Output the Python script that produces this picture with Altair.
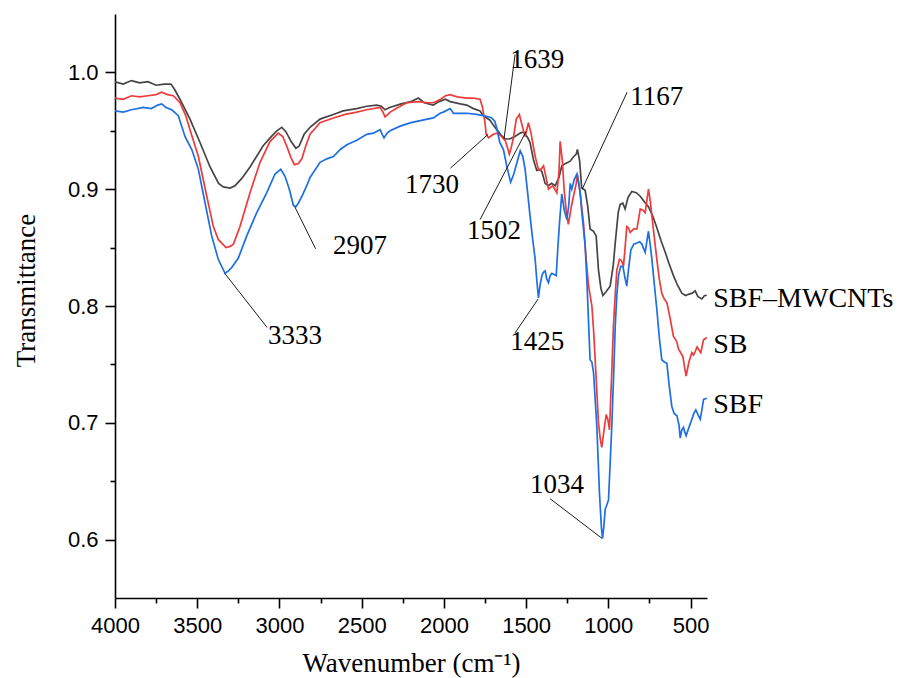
import altair as alt
import pandas as pd

# ---------------- data ----------------
series_names = ["SBF–MWCNTs", "SB", "SBF"]
series_colors = ["#454545", "#ee3b3b", "#1c6fe4"]

wn_mw = [4000, 3950, 3900, 3850, 3800, 3750, 3700, 3660, 3640, 3605, 3544, 3483, 3422, 3370, 3341, 3300,
         3270, 3230, 3179, 3100, 3050, 3016, 2986, 2960, 2930, 2900, 2880, 2850, 2814, 2753, 2672, 2613,
         2530, 2470, 2408, 2380, 2358, 2330, 2260, 2200, 2155, 2120, 2065, 2030, 1990, 1962, 1900, 1861,
         1820, 1780, 1760, 1739, 1719, 1700, 1678, 1650, 1628, 1600, 1570, 1536, 1516, 1490, 1476, 1455,
         1435, 1415, 1404, 1384, 1364, 1345, 1323, 1300, 1283, 1260, 1232, 1210, 1195, 1188, 1175, 1162,
         1141, 1125, 1111, 1090, 1074, 1060, 1045, 1033, 1015, 989, 970, 958, 940, 928, 912, 898, 880,
         857, 830, 806, 780, 756, 730, 705, 680, 654, 630, 604, 580, 553, 530, 513, 490, 472, 455, 431,
         415, 401]
t_mw = [0.992, 0.990, 0.993, 0.991, 0.992, 0.989, 0.990, 0.990, 0.986, 0.977, 0.960, 0.940, 0.919, 0.905,
        0.902, 0.901, 0.903, 0.909, 0.919, 0.937, 0.945, 0.950, 0.953, 0.949, 0.941, 0.935, 0.937, 0.947,
        0.953, 0.960, 0.964, 0.967, 0.969, 0.971, 0.972, 0.971, 0.968, 0.970, 0.973, 0.975, 0.978, 0.974,
        0.972, 0.975, 0.977, 0.975, 0.973, 0.972, 0.969, 0.967, 0.963, 0.961, 0.959, 0.955, 0.951, 0.946,
        0.943, 0.943, 0.945, 0.948, 0.949, 0.944, 0.940, 0.925, 0.916, 0.917, 0.915, 0.905, 0.903, 0.905,
        0.903, 0.910, 0.920, 0.922, 0.924, 0.928, 0.930, 0.934, 0.925, 0.901, 0.899, 0.885, 0.866, 0.864,
        0.860, 0.831, 0.815, 0.809, 0.812, 0.817, 0.835, 0.854, 0.880, 0.887, 0.888, 0.883, 0.893, 0.898,
        0.897, 0.894, 0.889, 0.885, 0.877, 0.867, 0.856, 0.846, 0.836, 0.826, 0.818, 0.811, 0.809, 0.810,
        0.811, 0.813, 0.808, 0.806, 0.809, 0.809]

wn_sb = [4000, 3950, 3900, 3850, 3800, 3750, 3716, 3680, 3645, 3605, 3570, 3544, 3493, 3442, 3402, 3372,
         3325, 3300, 3280, 3240, 3179, 3118, 3057, 3007, 2980, 2956, 2930, 2909, 2885, 2864, 2840, 2814,
         2753, 2672, 2600, 2530, 2469, 2388, 2370, 2358, 2340, 2327, 2280, 2226, 2150, 2100, 2064, 2020,
         1990, 1962, 1920, 1861, 1820, 1780, 1765, 1750, 1743, 1729, 1699, 1675, 1648, 1625, 1602, 1590,
         1577, 1560, 1541, 1525, 1506, 1486, 1470, 1445, 1425, 1415, 1394, 1380, 1364, 1338, 1313, 1300,
         1293, 1280, 1269, 1255, 1243, 1225, 1212, 1195, 1188, 1170, 1151, 1135, 1121, 1100, 1090, 1080,
         1060, 1048, 1040, 1025, 1013, 1003, 993, 980, 969, 958, 948, 932, 920, 908, 898, 888, 878, 867,
         845, 826, 806, 790, 776, 756, 745, 735, 720, 705, 690, 675, 660, 644, 625, 604, 590, 583, 573,
         560, 547, 537, 527, 510, 492, 482, 472, 460, 452, 438, 421, 401]
t_sb = [0.978, 0.977, 0.980, 0.979, 0.980, 0.981, 0.983, 0.981, 0.980, 0.974, 0.963, 0.951, 0.928, 0.894,
        0.868, 0.857, 0.850, 0.851, 0.853, 0.868, 0.897, 0.923, 0.941, 0.948, 0.945, 0.937, 0.927, 0.921,
        0.922, 0.926, 0.937, 0.947, 0.957, 0.961, 0.964, 0.966, 0.968, 0.970, 0.966, 0.962, 0.964, 0.966,
        0.970, 0.974, 0.975, 0.974, 0.974, 0.977, 0.980, 0.981, 0.979, 0.978, 0.978, 0.977, 0.970, 0.957,
        0.947, 0.944, 0.947, 0.948, 0.945, 0.941, 0.930, 0.936, 0.944, 0.960, 0.964, 0.955, 0.945, 0.957,
        0.948, 0.928, 0.917, 0.916, 0.920, 0.911, 0.900, 0.903, 0.897, 0.915, 0.941, 0.925, 0.900, 0.880,
        0.870, 0.885, 0.894, 0.905, 0.913, 0.895, 0.871, 0.840, 0.818, 0.800, 0.780, 0.754, 0.700, 0.685,
        0.679, 0.695, 0.707, 0.703, 0.694, 0.740, 0.783, 0.810, 0.831, 0.840, 0.839, 0.834, 0.850, 0.868,
        0.867, 0.863, 0.866, 0.866, 0.883, 0.882, 0.880, 0.900, 0.890, 0.877, 0.858, 0.840, 0.823, 0.811,
        0.806, 0.803, 0.790, 0.774, 0.771, 0.769, 0.763, 0.760, 0.757, 0.748, 0.740, 0.752, 0.760, 0.758,
        0.761, 0.765, 0.763, 0.760, 0.771, 0.773]

wn_sbf = [4000, 3950, 3900, 3828, 3780, 3740, 3716, 3690, 3655, 3615, 3574, 3533, 3493, 3452, 3412, 3372,
          3331, 3310, 3290, 3250, 3199, 3138, 3077, 3027, 2992, 2966, 2940, 2915, 2900, 2885, 2860, 2834,
          2814, 2753, 2712, 2672, 2630, 2590, 2530, 2469, 2429, 2388, 2375, 2364, 2345, 2327, 2266, 2200,
          2165, 2100, 2064, 2023, 2003, 1962, 1942, 1900, 1861, 1800, 1760, 1730, 1709, 1690, 1678, 1660,
          1638, 1615, 1594, 1575, 1561, 1536, 1520, 1506, 1490, 1476, 1460, 1445, 1435, 1425, 1415, 1404,
          1394, 1384, 1374, 1364, 1354, 1343, 1330, 1317, 1307, 1297, 1283, 1268, 1252, 1240, 1232, 1222,
          1208, 1191, 1180, 1171, 1161, 1141, 1130, 1111, 1100, 1090, 1070, 1054, 1042, 1035, 1027, 1019,
          1008, 999, 989, 979, 968, 958, 948, 938, 925, 911, 900, 888, 876, 863, 845, 826, 810, 796, 776,
          765, 756, 745, 735, 720, 705, 690, 675, 660, 644, 630, 614, 600, 583, 570, 563, 553, 543, 535,
          527, 510, 492, 480, 468, 455, 441, 430, 421, 401]
t_sbf = [0.967, 0.966, 0.968, 0.970, 0.969, 0.972, 0.973, 0.970, 0.968, 0.963, 0.945, 0.934, 0.917, 0.888,
         0.860, 0.840, 0.828, 0.830, 0.833, 0.841, 0.860, 0.880, 0.897, 0.913, 0.917, 0.911, 0.900, 0.886,
         0.885, 0.888, 0.895, 0.903, 0.910, 0.923, 0.926, 0.928, 0.934, 0.938, 0.942, 0.947, 0.948, 0.951,
         0.947, 0.944, 0.948, 0.950, 0.954, 0.957, 0.958, 0.960, 0.961, 0.965, 0.966, 0.969, 0.965, 0.965,
         0.965, 0.964, 0.963, 0.962, 0.961, 0.958, 0.952, 0.940, 0.934, 0.918, 0.906, 0.913, 0.920, 0.933,
         0.928, 0.917, 0.896, 0.877, 0.857, 0.840, 0.822, 0.807, 0.818, 0.826, 0.829, 0.830, 0.823, 0.820,
         0.826, 0.828, 0.827, 0.826, 0.850, 0.871, 0.896, 0.882, 0.874, 0.887, 0.905, 0.900, 0.908, 0.913,
         0.905, 0.897, 0.880, 0.852, 0.820, 0.754, 0.752, 0.743, 0.697, 0.640, 0.610, 0.601, 0.612, 0.626,
         0.630, 0.634, 0.665, 0.697, 0.740, 0.783, 0.810, 0.826, 0.834, 0.834, 0.825, 0.817, 0.833, 0.848,
         0.853, 0.854, 0.855, 0.853, 0.846, 0.856, 0.864, 0.852, 0.840, 0.818, 0.797, 0.773, 0.754, 0.752,
         0.751, 0.732, 0.714, 0.708, 0.706, 0.698, 0.687, 0.694, 0.696, 0.692, 0.689, 0.696, 0.703, 0.708,
         0.711, 0.707, 0.703, 0.712, 0.720, 0.721]

# peak annotations: label, peak (wn, T), leader-line end (wn, T), label anchor (wn, T)
ann_text = ["3333", "2907", "1730", "1639", "1502", "1167", "1425", "1034"]
ann_peak_wn = [3333, 2907, 1731, 1634, 1500, 1159, 1427, 1038]
ann_peak_t = [0.828, 0.885, 0.947, 0.9435, 0.9495, 0.900, 0.806, 0.601]
ann_end_wn = [3075, 2780, 1960, 1567, 1780, 886, 1567, 1354]
ann_end_t = [0.7816, 0.849, 0.918, 1.0154, 0.874, 0.983, 0.777, 0.635]
ann_lab_wn = [3069, 2674, 2236, 1597, 1859, 867, 1597, 1476]
ann_lab_t = [0.774, 0.851, 0.904, 1.011, 0.8638, 0.979, 0.7696, 0.647]

# series end labels
end_lab_wn = [362, 362, 362]
end_lab_t = [0.8056, 0.767, 0.7156]

x_major = [4000, 3500, 3000, 2500, 2000, 1500, 1000, 500]
x_minor = [3750, 3250, 2750, 2250, 1750, 1250, 750]
y_major = [0.6, 0.7, 0.8, 0.9, 1.0]
y_minor = [0.65, 0.75, 0.85, 0.95]

# ---------------- build tables ----------------
rows = []
for i, (name, wns, ts) in enumerate(zip(series_names, [wn_mw, wn_sb, wn_sbf], [t_mw, t_sb, t_sbf])):
    for j, (w, t) in enumerate(zip(wns, ts)):
        rows.append({"series": name, "wn": w, "T": t, "idx": j})
df = pd.DataFrame(rows)

ann = pd.DataFrame({"text": ann_text, "pw": ann_peak_wn, "pt": ann_peak_t,
                    "ew": ann_end_wn, "et": ann_end_t, "lw": ann_lab_wn, "lt": ann_lab_t})
ends = pd.DataFrame({"series": series_names, "wn": end_lab_wn, "T": end_lab_t})

xs = alt.Scale(domain=[4000, 400], nice=False, zero=False)
ys = alt.Scale(domain=[0.55, 1.05], nice=False, zero=False)

serif = "Liberation Serif"
sans = "Liberation Sans"

common = dict(grid=False, domainColor="black", tickColor="black", domainWidth=1.6, tickWidth=1.6,
              labelFont=sans, labelFontSize=22, labelColor="black", labelFlush=False,
              titleFont=serif, titleFontSize=27, titleFontWeight="normal", titleColor="black",
              titleBaseline="alphabetic")

x_axis = alt.Axis(values=x_major, format="d", tickSize=10, labelPadding=7, orient="bottom",
                  title="Wavenumber (cm⁻¹)", titleY=73, **common)
y_axis = alt.Axis(values=y_major, format=".1f", tickSize=10, labelPadding=7, orient="left",
                  title="Transmittance", titleX=-81, titleY=276, **common)

x_axis_minor = alt.Axis(values=x_minor, tickSize=5, labels=False, domain=False, title=None,
                        grid=False, tickColor="black", tickWidth=1.6, orient="bottom")
y_axis_minor = alt.Axis(values=y_minor, tickSize=5, labels=False, domain=False, title=None,
                        grid=False, tickColor="black", tickWidth=1.6, orient="left")

color = alt.Color("series:N", scale=alt.Scale(domain=series_names, range=series_colors), legend=None)

lines = alt.Chart(df).mark_line(strokeWidth=1.7, clip=True).encode(
    x=alt.X("wn:Q", scale=xs, axis=x_axis),
    y=alt.Y("T:Q", scale=ys, axis=y_axis),
    color=color,
    order="idx:Q",
    detail="series:N",
)

minor = alt.Chart(ends).mark_point(opacity=0).encode(
    x=alt.X("wn:Q", scale=xs, axis=x_axis_minor),
    y=alt.Y("T:Q", scale=ys, axis=y_axis_minor),
)

leaders = alt.Chart(ann).mark_rule(color="black", strokeWidth=0.9).encode(
    x=alt.X("pw:Q", axis=None), y=alt.Y("pt:Q", axis=None), x2="ew:Q", y2="et:Q"
)
ann_labels = alt.Chart(ann).mark_text(
    align="left", baseline="middle", font=serif, fontSize=27, color="black"
).encode(x=alt.X("lw:Q", axis=None), y=alt.Y("lt:Q", axis=None), text="text:N")

end_labels = alt.Chart(ends).mark_text(
    align="left", baseline="middle", font=serif, fontSize=28, color="black"
).encode(x=alt.X("wn:Q", axis=None), y=alt.Y("T:Q", axis=None), text="series:N")

chart = alt.layer(lines, minor, leaders, ann_labels, end_labels).resolve_axis(
    x="independent", y="independent"
).properties(
    width=592, height=584,
    autosize=alt.AutoSizeParams(type="none"),
    padding={"left": 115, "top": 14, "right": 198, "bottom": 80},
    background="white",
).configure_view(stroke=None)

chart.save("out.html", embed_options={"renderer": "svg", "actions": False})
